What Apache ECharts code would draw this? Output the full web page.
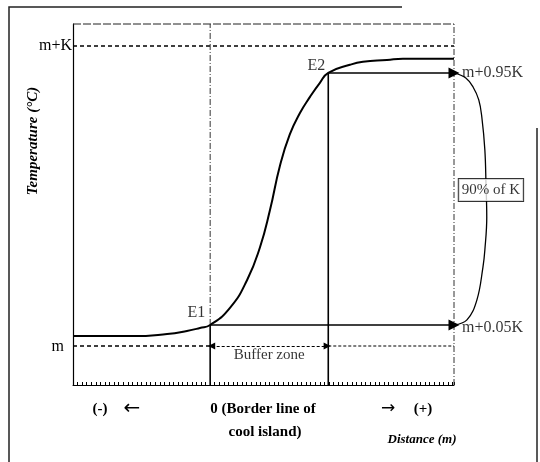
<!DOCTYPE html>
<html>
<head>
<meta charset="utf-8">
<script src="https://cdn.jsdelivr.net/npm/echarts@6/dist/echarts.min.js"></script>
<style>
html,body{margin:0;padding:0;background:#fff;}
#c{width:540px;height:462px;}
</style>
</head>
<body>
<div id="c"></div>
<script>
// ---- data (schematic units: distance x, temperature y with m = 0, K = 100) ----
const curveX = [-36, -20.3, -11.3, -6.1, -2.7, 0, 5.2, 9.7, 13.1, 15.7, 18.3, 20.9, 23.6, 26.2, 28.8, 31, 36.7, 40.1, 46.4, 50.6, 64];
const curveY = [3.3, 3.3, 4, 5, 6, 7, 12.7, 22, 33, 45.3, 60, 70.5, 77.7, 83, 87.7, 91, 93.7, 94.7, 95.3, 95.7, 95.7];
const braceX = [64, 67.1, 69, 70.5, 71.3, 72.1, 72.4, 72.6, 72.1, 71.6, 70, 67.4, 64];
const braceY = [91, 89.3, 86.3, 82, 76.3, 65.3, 53.7, 43, 32, 26.3, 15.3, 8.7, 7];
const yTickValues = [0, 100];
const yTickLabels = ['m', 'm+K'];
const E1 = [0, 7];
const E2 = [31, 91];
const levelLabels = ['m+0.95K', 'm+0.05K'];
const pointLabels = ['E1', 'E2'];
const boxLabel = '90% of K';
const boxPos = [73.7, 52];
const bufferLabel = 'Buffer zone';
const bufferPos = [15.5, -3];
const xMin = -36, xMax = 64, xMaxWide = 80, yMin = -13, yMax = 107.3;
const bottomTexts = ['(-)', '\u2190', '0 (Border line of', 'cool island)', '\u2192', '(+)'];
const yTitle = 'Temperature (\u00B0C)';
const xTitle = 'Distance (m)';

const SERIF = '"Liberation Serif", "Times New Roman", serif';
const zip = (xs, ys) => xs.map((x, i) => [x, ys[i]]);

function seg(points, style, z) {
  return {
    type: 'line', data: points, symbol: 'none', silent: true, clip: false,
    animation: false, z: z || 2,
    lineStyle: Object.assign({ color: '#000', width: 1.3 }, style)
  };
}

const dashDot = [6, 2, 1, 2];

const series = [
  seg([[xMin, yMax], [xMax, yMax]], { width: 1, type: [8, 2], color: '#222' }),
  seg([[xMin, 100], [xMax, 100]], { width: 1.5, type: [4, 3] }),
  seg([[xMin, 0], [E1[0], 0]], { width: 1.5, type: [4, 3] }),
  seg([[E2[0], 0], [xMax, 0]], { width: 1.2, type: [3, 2] }),
  seg([[E1[0], E1[1]], [E1[0], yMax]], { width: 1, type: dashDot, color: '#333' }),
  seg([[E1[0], yMin], [E1[0], E1[1]]], { width: 1.6 }),
  seg([[E2[0], yMin], [E2[0], E2[1]]], { width: 1.6 }),
  seg([[xMax, yMin], [xMax, yMax]], { width: 1, type: dashDot, color: '#333' }),
  // right brace (on the wider hidden grid with the same scale)
  Object.assign(seg(zip(braceX, braceY), { width: 1.3 }), { smooth: 0.4, xAxisIndex: 1, yAxisIndex: 1 }),
  {
    type: 'line', data: zip(curveX, curveY), symbol: 'none', smooth: 0.5,
    silent: true, clip: false, animation: false, z: 4,
    lineStyle: { color: '#000', width: 2 },
    markLine: {
      silent: true, animation: false, label: { show: false },
      symbol: ['none', 'triangle'], symbolSize: 11,
      lineStyle: { color: '#000', width: 1.6, type: 'solid' },
      data: [
        [{ coord: E1 }, { coord: [xMax, E1[1]] }],
        [{ coord: E2 }, { coord: [xMax, E2[1]] }]
      ]
    }
  },
  {
    type: 'line', data: [], symbol: 'none', silent: true, animation: false,
    markLine: {
      silent: true, animation: false, label: { show: false },
      symbol: ['triangle', 'triangle'], symbolSize: 7,
      lineStyle: { color: '#000', width: 1.2, type: [3, 2] },
      data: [[{ coord: [E1[0] + 0.4, 0] }, { coord: [E2[0] - 0.3, 0] }]]
    }
  },
  {
    type: 'scatter', symbolSize: 0, silent: true, clip: false, animation: false, z: 10,
    xAxisIndex: 1, yAxisIndex: 1,
    data: [
      { value: E1, label: { show: true, formatter: pointLabels[0], position: 'left', distance: 5, offset: [0, -12] } },
      { value: E2, label: { show: true, formatter: pointLabels[1], position: 'left', distance: 3, offset: [0, -7] } },
      { value: [xMax, E2[1]], label: { show: true, formatter: levelLabels[0], position: 'right', distance: 8, offset: [0, 0] } },
      { value: [xMax, E1[1]], label: { show: true, formatter: levelLabels[1], position: 'right', distance: 8, offset: [0, 3] } },
      { value: bufferPos, label: { show: true, formatter: bufferLabel, position: 'inside', fontSize: 15 } },
      { value: boxPos, label: { show: true, formatter: boxLabel, position: 'inside', fontSize: 15,
          backgroundColor: '#fff', borderColor: '#000', borderWidth: 1, padding: [4, 3, 3, 3] } }
    ],
    label: { color: '#000', fontFamily: SERIF, fontSize: 16 }
  }
];

const hiddenAxis = (min, max, idx) => ({
  type: 'value', min: min, max: max, gridIndex: idx, show: false,
  axisLine: { show: false }, axisTick: { show: false }, axisLabel: { show: false }, splitLine: { show: false }
});

const chart = echarts.init(document.getElementById('c'), null, { renderer: 'canvas' });
chart.setOption({
  backgroundColor: '#fff',
  animation: false,
  grid: [
    { left: 73, top: 24, width: 381, height: 361, containLabel: false },
    { left: 73, top: 24, width: 381 * (xMaxWide - xMin) / (xMax - xMin), height: 361, containLabel: false }
  ],
  xAxis: [{
    type: 'value', min: xMin, max: xMax, interval: 1.2, gridIndex: 0,
    axisLine: { show: true, onZero: false, lineStyle: { color: '#000', width: 1 } },
    axisTick: { show: true, inside: true, length: 3, lineStyle: { color: '#000', width: 1 } },
    axisLabel: { show: false }, splitLine: { show: false }
  }, hiddenAxis(xMin, xMaxWide, 1)],
  yAxis: [{
    type: 'value', min: yMin, max: yMax, gridIndex: 0,
    axisLine: { show: true, onZero: false, lineStyle: { color: '#000', width: 1.2 } },
    axisTick: { show: false }, splitLine: { show: false },
    axisLabel: {
      customValues: yTickValues,
      margin: 1,
      color: '#000', fontFamily: SERIF, fontSize: 16,
      formatter: v => {
        const i = yTickValues.indexOf(v);
        return i === 0 ? '{a|' + yTickLabels[i] + '}' : yTickLabels[i];
      },
      rich: { a: { fontFamily: SERIF, fontSize: 16, color: '#000', padding: [2, 8, 0, 0] } }
    }
  }, hiddenAxis(yMin, yMax, 1)],
  series: series,
  graphic: [
    { type: 'polyline', silent: true, shape: { points: [[9, 462], [9, 7], [402, 7]] }, style: { stroke: '#222', lineWidth: 1.5, fill: null } },
    { type: 'polyline', silent: true, shape: { points: [[537, 128], [537, 462]] }, style: { stroke: '#222', lineWidth: 1.5, fill: null } },
    { type: 'text', x: 33, y: 141, rotation: Math.PI / 2, silent: true,
      style: { text: yTitle, textAlign: 'center', textVerticalAlign: 'middle', font: 'italic bold 15px ' + SERIF, fill: '#000' } },
    { type: 'text', x: 100, y: 409, silent: true, style: { text: bottomTexts[0], textAlign: 'center', textVerticalAlign: 'middle', font: 'bold 15px ' + SERIF, fill: '#000' } },
    { type: 'text', x: 132, y: 409, silent: true, style: { text: bottomTexts[1], textAlign: 'center', textVerticalAlign: 'middle', font: '20px "DejaVu Sans", sans-serif', fill: '#000' } },
    { type: 'text', x: 263, y: 409, silent: true, style: { text: bottomTexts[2], textAlign: 'center', textVerticalAlign: 'middle', font: 'bold 15px ' + SERIF, fill: '#000' } },
    { type: 'text', x: 265, y: 432, silent: true, style: { text: bottomTexts[3], textAlign: 'center', textVerticalAlign: 'middle', font: 'bold 15px ' + SERIF, fill: '#000' } },
    { type: 'text', x: 388, y: 409, silent: true, style: { text: bottomTexts[4], textAlign: 'center', textVerticalAlign: 'middle', font: '17px "DejaVu Sans", sans-serif', fill: '#000' } },
    { type: 'text', x: 423, y: 409, silent: true, style: { text: bottomTexts[5], textAlign: 'center', textVerticalAlign: 'middle', font: 'bold 15px ' + SERIF, fill: '#000' } },
    { type: 'text', x: 422, y: 440, silent: true, style: { text: xTitle, textAlign: 'center', textVerticalAlign: 'middle', font: 'italic bold 13px ' + SERIF, fill: '#000' } }
  ]
});
</script>
</body>
</html>
